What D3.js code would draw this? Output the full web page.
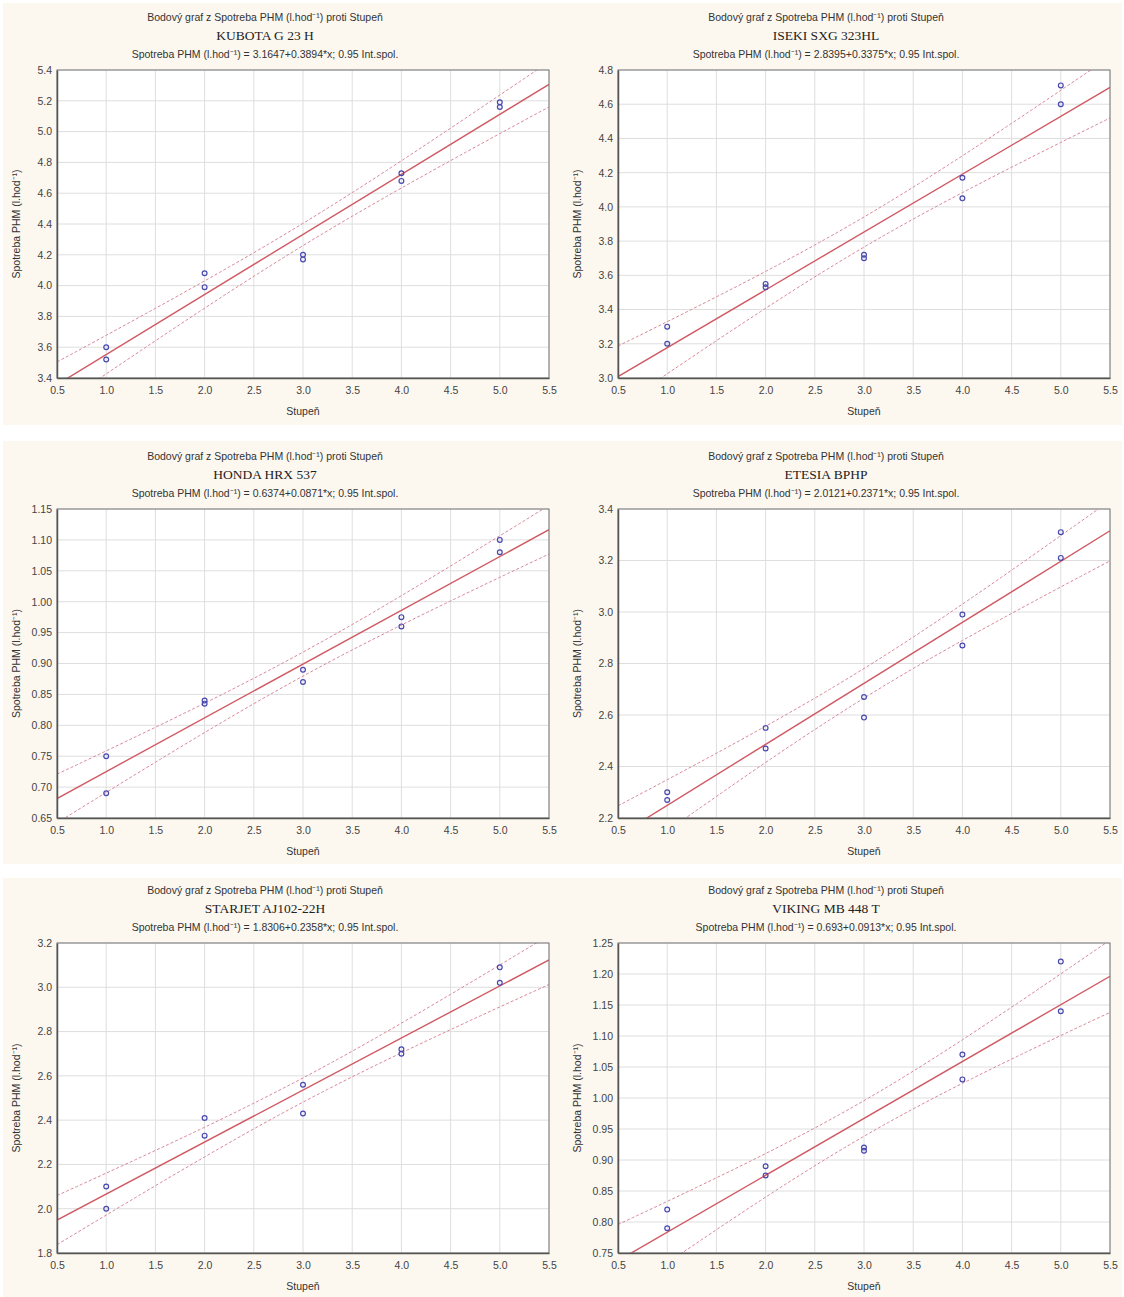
<!DOCTYPE html>
<html lang="cs">
<head>
  <meta charset="UTF-8">
  <title>Bodový graf - Spotreba PHM</title>
  <script src="https://d3js.org/d3.v7.min.js"></script>
  <style>
    body { margin: 0; background: #fff; }
    text { font-family: "Liberation Sans", Arial, sans-serif; }
  </style>
</head>
<body>
  <svg id="svg1"></svg>
  <script>
    // data
    const machines = ["KUBOTA G 23 H", "ISEKI SXG 323HL", "HONDA HRX 537", "ETESIA BPHP", "STARJET AJ102-22H", "VIKING MB 448 T"];
    const equations = ["3.1647+0.3894*x", "2.8395+0.3375*x", "0.6374+0.0871*x", "2.0121+0.2371*x", "1.8306+0.2358*x", "0.693+0.0913*x"];
    const stupen = [1, 1, 2, 2, 3, 3, 4, 4, 5, 5];
    const kubota = [3.60, 3.52, 4.08, 3.99, 4.20, 4.17, 4.73, 4.68, 5.19, 5.16];
    const iseki = [3.30, 3.20, 3.55, 3.53, 3.72, 3.70, 4.17, 4.05, 4.71, 4.60];
    const honda = [0.75, 0.69, 0.84, 0.835, 0.89, 0.87, 0.975, 0.96, 1.10, 1.08];
    const etesia = [2.30, 2.27, 2.55, 2.47, 2.67, 2.59, 2.99, 2.87, 3.31, 3.21];
    const starjet = [2.10, 2.00, 2.41, 2.33, 2.56, 2.43, 2.72, 2.70, 3.09, 3.02];
    const viking = [0.82, 0.79, 0.89, 0.875, 0.92, 0.915, 1.07, 1.03, 1.22, 1.14];
    const series = [kubota, iseki, honda, etesia, starjet, viking];
    const yDomains = [[3.4, 5.4], [3.0, 4.8], [0.65, 1.15], [2.2, 3.4], [1.8, 3.2], [0.75, 1.25]];
    const yStep = [0.2, 0.2, 0.05, 0.2, 0.2, 0.05];
    const xTicks = [0.5, 1.0, 1.5, 2.0, 2.5, 3.0, 3.5, 4.0, 4.5, 5.0, 5.5];

    const W = 1124, H = 1297;
    const colLeft = [57, 618];
    const plotW = 492;
    const rowTop = [70, 509, 943];
    const rowBottom = [378, 818, 1253];
    const bgRows = [[3, 425], [441, 864], [878, 1297]];

    const svg = d3.select('#svg1').attr('width', W).attr('height', H);

    bgRows.forEach(r => {
      svg.append('rect').attr('x', 3).attr('y', r[0]).attr('width', W - 5).attr('height', r[1] - r[0])
        .attr('fill', '#fcf8f0');
    });

    const tT = 2.306; // t(0.975, 8)

    series.forEach((ys, i) => {
      const col = i % 2, row = Math.floor(i / 2);
      const left = colLeft[col], right = left + plotW;
      const top = rowTop[row], bottom = rowBottom[row];

      const x = d3.scaleLinear().domain([0.5, 5.5]).range([left, right]);
      const y = d3.scaleLinear().domain(yDomains[i]).range([bottom, top]);
      const dec = yStep[i] < 0.1 ? 2 : 1;
      const yTicks = d3.range(yDomains[i][0], yDomains[i][1] + yStep[i] / 2, yStep[i]);

      const g = svg.append('g');
      g.append('rect').attr('x', left).attr('y', top).attr('width', plotW).attr('height', bottom - top)
        .attr('fill', '#fff');

      // grid
      g.append('g').selectAll('line').data(xTicks).join('line')
        .attr('x1', d => x(d)).attr('x2', d => x(d)).attr('y1', top).attr('y2', bottom)
        .attr('stroke', '#dedede').attr('stroke-width', 1);
      g.append('g').selectAll('line').data(yTicks).join('line')
        .attr('x1', left).attr('x2', right).attr('y1', d => y(d)).attr('y2', d => y(d))
        .attr('stroke', '#dedede').attr('stroke-width', 1);

      // regression and 95% confidence band
      const n = ys.length;
      const mx = d3.mean(stupen), my = d3.mean(ys);
      const sxx = d3.sum(stupen, d => (d - mx) ** 2);
      const b = d3.sum(stupen, (d, k) => (d - mx) * (ys[k] - my)) / sxx;
      const a = my - b * mx;
      const s = Math.sqrt(d3.sum(stupen, (d, k) => (ys[k] - a - b * d) ** 2) / (n - 2));
      const xs = d3.range(0.5, 5.501, 0.05);
      const half = xv => tT * s * Math.sqrt(1 / n + (xv - mx) ** 2 / sxx);

      const clipId = 'clip' + i;
      svg.append('clipPath').attr('id', clipId).append('rect')
        .attr('x', left).attr('y', top).attr('width', plotW).attr('height', bottom - top);
      const lines = g.append('g').attr('clip-path', `url(#${clipId})`);
      const line = d3.line().x(d => x(d[0])).y(d => y(d[1]));
      lines.append('path').attr('d', line(xs.map(v => [v, a + b * v + half(v)])))
        .attr('fill', 'none').attr('stroke', '#d9889a').attr('stroke-width', 1).attr('stroke-dasharray', '3,2');
      lines.append('path').attr('d', line(xs.map(v => [v, a + b * v - half(v)])))
        .attr('fill', 'none').attr('stroke', '#d9889a').attr('stroke-width', 1).attr('stroke-dasharray', '3,2');
      lines.append('path').attr('d', line([[0.5, a + b * 0.5], [5.5, a + b * 5.5]]))
        .attr('fill', 'none').attr('stroke', '#d05a64').attr('stroke-width', 1.4);

      // points
      g.append('g').selectAll('circle').data(ys).join('circle')
        .attr('cx', (d, k) => x(stupen[k])).attr('cy', d => y(d)).attr('r', 2.4)
        .attr('fill', 'none').attr('stroke', '#4848b0').attr('stroke-width', 1.2);

      // frame
      g.append('rect').attr('x', left).attr('y', top).attr('width', plotW).attr('height', bottom - top)
        .attr('fill', 'none').attr('stroke', '#777').attr('stroke-width', 1);

      // axes
      const xAxis = d3.axisBottom(x).tickValues(xTicks).tickFormat(d3.format('.1f')).tickSize(0).tickPadding(9);
      const yAxis = d3.axisLeft(y).tickValues(yTicks).tickFormat(d3.format('.' + dec + 'f')).tickSize(0).tickPadding(5);
      const gx = g.append('g').attr('transform', `translate(0,${bottom})`).call(xAxis);
      const gy = g.append('g').attr('transform', `translate(${left},0)`).call(yAxis);
      [gx, gy].forEach(ax => {
        ax.select('.domain').attr('stroke', '#555').attr('stroke-width', 1.5);
        ax.selectAll('text').attr('font-size', 10.5).attr('fill', '#444');
      });

      // titles
      const cx = left + 208;
      g.append('text').attr('x', cx).attr('y', top - 49).attr('text-anchor', 'middle')
        .attr('font-size', 10.5).attr('fill', '#333')
        .text('Bodový graf z Spotreba PHM (l.hod\u207B\u00B9) proti Stupeň');
      g.append('text').attr('x', cx).attr('y', top - 30).attr('text-anchor', 'middle')
        .attr('font-size', 13.5).attr('fill', '#222').style('font-family', '"Liberation Serif", "Times New Roman", serif')
        .text(machines[i]);
      g.append('text').attr('x', cx).attr('y', top - 12).attr('text-anchor', 'middle')
        .attr('font-size', 10.5).attr('fill', '#333')
        .text('Spotreba PHM (l.hod\u207B\u00B9) = ' + equations[i] + '; 0.95 Int.spol.');

      g.append('text').attr('x', (left + right) / 2).attr('y', bottom + 37).attr('text-anchor', 'middle')
        .attr('font-size', 10.5).attr('fill', '#333').text('Stupeň');
      g.append('text').attr('transform', `translate(${left - 37},${(top + bottom) / 2}) rotate(-90)`)
        .attr('text-anchor', 'middle').attr('font-size', 10.5).attr('fill', '#333')
        .text('Spotreba PHM (l.hod\u207B\u00B9)');
    });
  </script>
</body>
</html>
